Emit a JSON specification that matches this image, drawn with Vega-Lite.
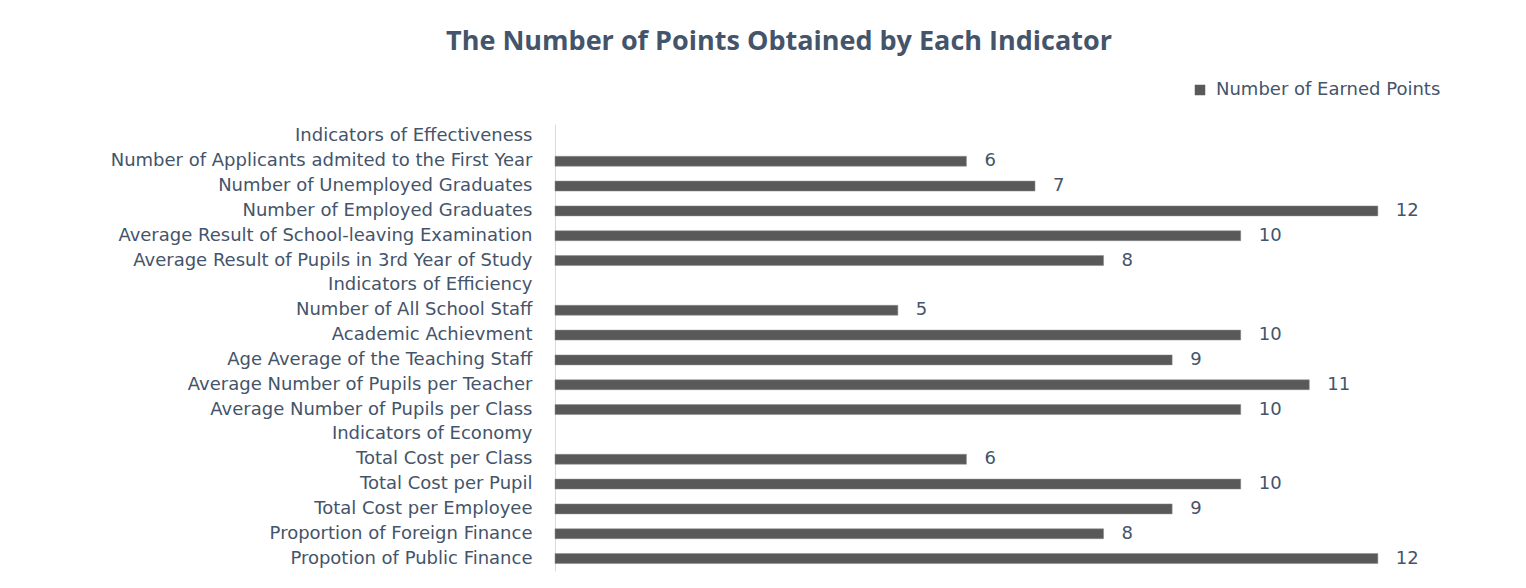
{
  "$schema": "https://vega.github.io/schema/vega-lite/v6.json",
  "width": 960,
  "height": 447,
  "autosize": "none",
  "padding": {"left": 555, "top": 124, "right": 11, "bottom": 17},
  "background": "white",
  "title": {
    "text": "The Number of Points Obtained by Each Indicator",
    "anchor": "middle",
    "dx": -256,
    "offset": -2,
    "font": "Open Sans",
    "fontSize": 27,
    "fontWeight": "bold",
    "color": "#44546A",
    "baseline": "bottom"
  },
  "data": {
    "values": [
      {"indicator": "Number of Applicants admited to the First Year", "points": 6},
      {"indicator": "Number of Unemployed Graduates", "points": 7},
      {"indicator": "Number of Employed  Graduates", "points": 12},
      {"indicator": "Average Result of School-leaving Examination", "points": 10},
      {"indicator": "Average Result of Pupils in 3rd Year of Study", "points": 8},
      {"indicator": "Number of All School Staff", "points": 5},
      {"indicator": "Academic Achievment", "points": 10},
      {"indicator": "Age Average of the Teaching Staff", "points": 9},
      {"indicator": "Average Number of Pupils per Teacher", "points": 11},
      {"indicator": "Average Number of Pupils per Class", "points": 10},
      {"indicator": "Total Cost per Class", "points": 6},
      {"indicator": "Total Cost per Pupil", "points": 10},
      {"indicator": "Total Cost per Employee", "points": 9},
      {"indicator": "Proportion of Foreign Finance", "points": 8},
      {"indicator": "Propotion of Public Finance", "points": 12}
    ]
  },
  "encoding": {
    "y": {
      "field": "indicator",
      "type": "nominal",
      "title": null,
      "sort": null,
      "scale": {
        "domain": [
          "Indicators of Effectiveness",
          "Number of Applicants admited to the First Year",
          "Number of Unemployed Graduates",
          "Number of Employed  Graduates",
          "Average Result of School-leaving Examination",
          "Average Result of Pupils in 3rd Year of Study",
          "Indicators of Efficiency",
          "Number of All School Staff",
          "Academic Achievment",
          "Age Average of the Teaching Staff",
          "Average Number of Pupils per Teacher",
          "Average Number of Pupils per Class",
          "Indicators of Economy",
          "Total Cost per Class",
          "Total Cost per Pupil",
          "Total Cost per Employee",
          "Proportion of Foreign Finance",
          "Propotion of Public Finance"
        ],
        "paddingInner": 0.6,
        "paddingOuter": 0.3
      },
      "axis": {
        "domainColor": "#D9D9D9",
        "domainWidth": 1,
        "ticks": false,
        "labelPadding": 23,
        "labelFont": "DejaVu Sans",
        "labelFontSize": 18,
        "labelColor": "#44546A",
        "labelLimit": 600
      }
    },
    "x": {
      "field": "points",
      "type": "quantitative",
      "title": null,
      "scale": {"domain": [0, 14], "nice": false},
      "axis": null
    }
  },
  "layer": [
    {
      "mark": {"type": "bar", "stroke": "#8a8a8a", "strokeWidth": 0.5},
      "encoding": {
        "color": {
          "datum": "Number of Earned Points",
          "type": "nominal",
          "scale": {"range": ["#595959"]},
          "legend": {
            "title": null,
            "orient": "none",
            "legendX": 636,
            "legendY": -43,
            "symbolType": "square",
            "symbolSize": 110,
            "symbolStrokeWidth": 0,
            "labelFont": "DejaVu Sans",
            "labelFontSize": 18,
            "labelColor": "#44546A",
            "labelOffset": 7,
            "labelLimit": 500
          }
        }
      }
    },
    {
      "mark": {
        "type": "text",
        "align": "left",
        "dx": 18,
        "font": "DejaVu Sans",
        "fontSize": 18,
        "color": "#44546A"
      },
      "encoding": {"text": {"field": "points", "type": "quantitative"}}
    }
  ],
  "config": {"view": {"stroke": null}}
}
